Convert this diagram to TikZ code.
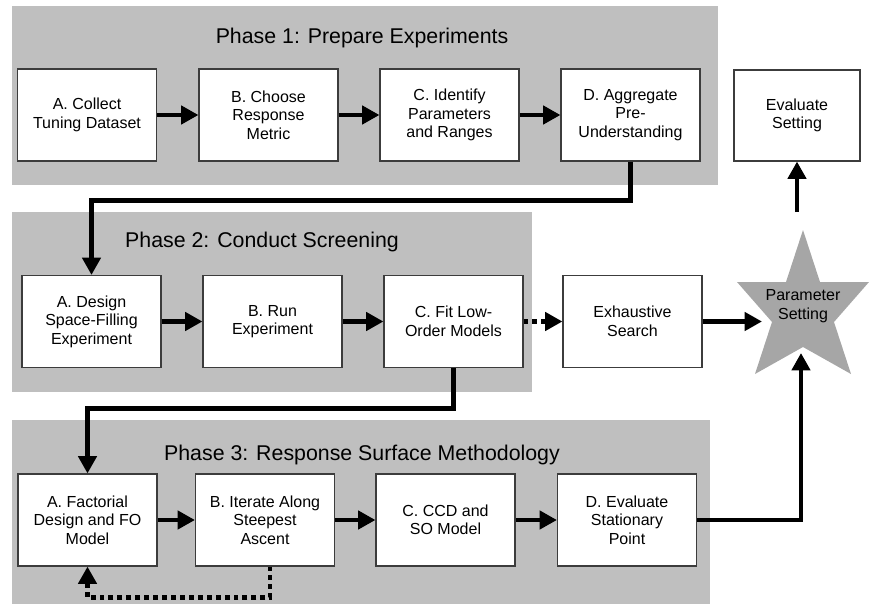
\documentclass[tikz,border=0pt]{standalone}
\usepackage{fontspec}
\setmainfont{Liberation Sans}
\usetikzlibrary{arrows.meta}
\definecolor{phasegray}{RGB}{191,191,191}
\definecolor{stargray}{RGB}{166,166,166}
\definecolor{boxline}{RGB}{60,60,60}
\begin{document}
\begin{tikzpicture}[x=0.75pt,y=-0.75pt,
  phase/.style={fill=phasegray, draw=none},
  box/.style={draw=boxline, line width=0.8pt, fill=white, align=center,
    font=\fontsize{12}{13.9}\selectfont, inner sep=2pt,
    minimum width=104.25pt, minimum height=69pt},
  arr/.style={line width=3.7pt, -{Triangle[length=13pt,width=13.5pt]}},
  darr/.style={arr, dash pattern=on 3.7pt off 3pt},
  title/.style={font=\fontsize{16}{19}\selectfont}]
\useasboundingbox (0,0) rectangle (869,607);
% phase backgrounds
\fill[phase] (12,6) rectangle (718,185);
\fill[phase] (12,212) rectangle (532,392);
\fill[phase] (12,420) rectangle (710,604);
% titles
\node[title] (t1) at (362,38) {Phase 1: Prepare Experiments};
\node[title] (t2) at (262,242) {Phase 2: Conduct Screening};
\node[title] (t3) at (362,455) {Phase 3: Response Surface Methodology};
% phase 1
\node[box] (p1a) at (87,115) {A. Collect\\Tuning Dataset};
\node[box] (p1b) at (268.5,115) {B. Choose\\Response\\Metric};
\node[box] (p1c) at (449.5,115) {C. Identify\\Parameters\\and Ranges};
\node[box] (p1d) at (630.5,115) {D. Aggregate\\Pre-\\Understanding};
\node[box, minimum width=94.5pt, minimum height=68.25pt] (ev) at (797,115.5) {Evaluate\\Setting};
% phase 2
\node[box] (p2a) at (91.5,321.5) {A. Design\\Space-Filling\\Experiment};
\node[box] (p2b) at (272.5,321.5) {B. Run\\Experiment};
\node[box] (p2c) at (453.5,321.5) {C. Fit Low-\\Order Models};
\node[box] (p2e) at (632.5,321.5) {Exhaustive\\Search};
% phase 3
\node[box] (p3a) at (87.5,520) {A. Factorial\\Design and FO\\Model};
\node[box] (p3b) at (265,520) {B. Iterate Along\\Steepest\\Ascent};
\node[box] (p3c) at (445.5,520) {C. CCD and\\SO Model};
\node[box] (p3d) at (627,520) {D. Evaluate\\Stationary\\Point};
% star
\fill[stargray] (803,230) -- (820,282) -- (869,282) -- (834,322) -- (851,374)
  -- (803,347) -- (755,374) -- (772,322) -- (737,282) -- (786,282) -- cycle;
\node[font=\fontsize{12}{13.9}\selectfont, align=center] (ps) at (803,306) {Parameter\\Setting};
\coordinate (sleft) at (762,321.5);
\coordinate (sbot) at (801,353);
\coordinate (stop) at (797,212);
% connectors
\draw[arr] (p1a) -- (p1b);
\draw[arr] (p1b) -- (p1c);
\draw[arr] (p1c) -- (p1d);
\draw[arr] (p1d.south) -- ++(0,39) -| (p2a.north);
\draw[arr] (p2a) -- (p2b);
\draw[arr] (p2b) -- (p2c);
\draw[darr] (p2c) -- (p2e);
\draw[arr] (p2e.east) -- (sleft);
\draw[arr] (p2c.south) -- ++(0,40) -| (p3a.north);
\draw[arr] (p3a) -- (p3b);
\draw[arr] (p3b) -- (p3c);
\draw[arr] (p3c) -- (p3d);
\draw[arr] (p3d.east) -| (sbot);
\draw[arr] (stop) -- (ev.south);
\draw[darr] ([xshift=3.75pt]p3b.south) -- ++(0,31) -| (p3a.south);
\end{tikzpicture}
\end{document}
